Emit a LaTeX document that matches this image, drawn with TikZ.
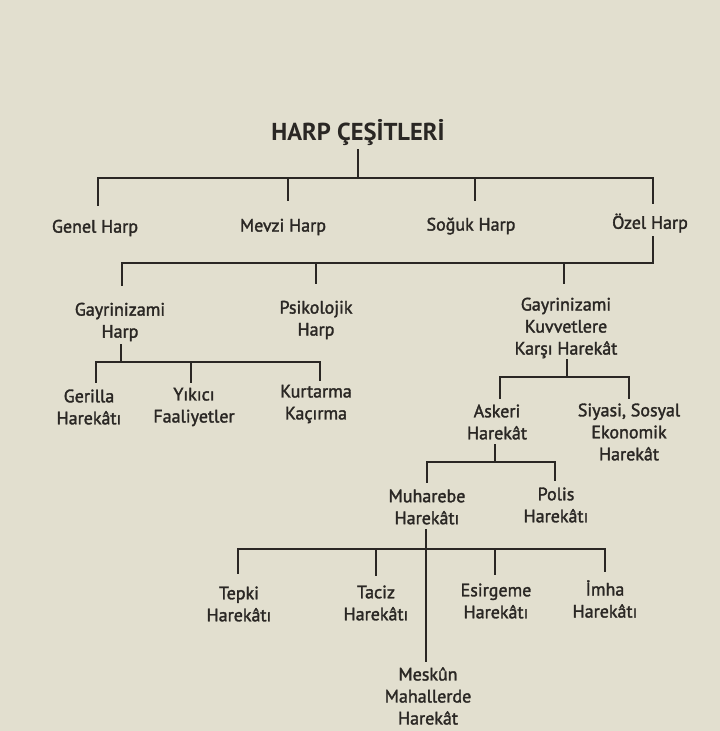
\documentclass[tikz,border=0pt]{standalone}
\usepackage{fontspec}
\setmainfont{PT Sans}
\newfontfamily\lblfont[FakeBold=1.8]{PT Sans}
\definecolor{bg}{RGB}{226,223,207}
\definecolor{ink}{RGB}{42,39,36}
\begin{document}
\begin{tikzpicture}[x=1pt,y=-1pt,
  lbl/.style={align=center,inner sep=0pt,text=ink,font=\lblfont\fontsize{18}{22}\selectfont},
  ttl/.style={inner sep=0pt,text=ink,font=\fontsize{24.5}{26}\selectfont\bfseries},
  conn/.style={draw=ink,line width=2pt,line cap=rect}]
\useasboundingbox[fill=bg] (0,0) rectangle (720,731);
% nodes
\node[ttl] (title) at (358,133) {HARP ÇEŞİTLERİ};
\node[lbl] (genel) at (95,228) {Genel Harp};
\node[lbl] (mevzi) at (283,227) {Mevzi Harp};
\node[lbl] (soguk) at (471,226) {Soğuk Harp};
\node[lbl] (ozel) at (650,223) {Özel Harp};
\node[lbl] (gh) at (120,322) {Gayrinizami\\Harp};
\node[lbl] (ps) at (316,320) {Psikolojik\\Harp};
\node[lbl] (gk) at (566,328) {Gayrinizami\\Kuvvetlere\\Karşı Harekât};
\node[lbl] (ger) at (89,407) {Gerilla\\Harekâtı};
\node[lbl] (yik) at (194,407) {Yıkıcı\\Faaliyetler};
\node[lbl] (kur) at (316,404) {Kurtarma\\Kaçırma};
\node[lbl] (ask) at (497,422) {Askeri\\Harekât};
\node[lbl] (siy) at (629,432) {Siyasi, Sosyal\\Ekonomik\\Harekât};
\node[lbl] (muh) at (427,507) {Muharebe\\Harekâtı};
\node[lbl] (pol) at (556,505) {Polis\\Harekâtı};
\node[lbl] (tep) at (239,604) {Tepki\\Harekâtı};
\node[lbl] (tac) at (376,603) {Taciz\\Harekâtı};
\node[lbl] (esi) at (496,601) {Esirgeme\\Harekâtı};
\node[lbl] (imh) at (605,599) {İmha\\Harekâtı};
\node[lbl] (mes) at (428,696) {Meskûn\\Mahallerde\\Harekât};
% connector end points
\coordinate (title-o) at (358,150);
\coordinate (bar0) at (0,178);
\coordinate (genel-i) at (98,205);
\coordinate (mevzi-i) at (288,200);
\coordinate (soguk-i) at (475,200);
\coordinate (ozel-i) at (653,203);
\coordinate (ozel-o) at (653,237);
\coordinate (bar1) at (0,263);
\coordinate (gh-i) at (122,285);
\coordinate (ps-i) at (316,283);
\coordinate (gk-i) at (564,283);
\coordinate (gh-o) at (121,345);
\coordinate (bar2) at (0,362);
\coordinate (ger-i) at (96,382);
\coordinate (yik-i) at (191,382);
\coordinate (kur-i) at (320,380);
\coordinate (gk-o) at (567,360);
\coordinate (bar3) at (0,377);
\coordinate (ask-i) at (500,398);
\coordinate (siy-i) at (629,398);
\coordinate (ask-o) at (495,445);
\coordinate (bar4) at (0,462);
\coordinate (muh-i) at (427,482);
\coordinate (pol-i) at (555,480);
\coordinate (muh-o) at (426,530);
\coordinate (bar5) at (0,549);
\coordinate (tep-i) at (238,573);
\coordinate (tac-i) at (376,575);
\coordinate (esi-i) at (495,574);
\coordinate (imh-i) at (605,571);
\coordinate (mes-i) at (426,661);
% connectors
\draw[conn] (title-o) -- (title-o |- bar0);
\draw[conn] (genel-i) -- (genel-i |- bar0) -- (ozel-i |- bar0) -- (ozel-i);
\draw[conn] (mevzi-i) -- (mevzi-i |- bar0);
\draw[conn] (soguk-i) -- (soguk-i |- bar0);
\draw[conn] (ozel-o) -- (ozel-o |- bar1);
\draw[conn] (gh-i) -- (gh-i |- bar1) -- (ozel-o |- bar1);
\draw[conn] (ps-i) -- (ps-i |- bar1);
\draw[conn] (gk-i) -- (gk-i |- bar1);
\draw[conn] (gh-o) -- (gh-o |- bar2);
\draw[conn] (ger-i) -- (ger-i |- bar2) -- (kur-i |- bar2) -- (kur-i);
\draw[conn] (yik-i) -- (yik-i |- bar2);
\draw[conn] (gk-o) -- (gk-o |- bar3);
\draw[conn] (ask-i) -- (ask-i |- bar3) -- (siy-i |- bar3) -- (siy-i);
\draw[conn] (ask-o) -- (ask-o |- bar4);
\draw[conn] (muh-i) -- (muh-i |- bar4) -- (pol-i |- bar4) -- (pol-i);
\draw[conn] (muh-o) -- (mes-i);
\draw[conn] (tep-i) -- (tep-i |- bar5) -- (imh-i |- bar5) -- (imh-i);
\draw[conn] (tac-i) -- (tac-i |- bar5);
\draw[conn] (esi-i) -- (esi-i |- bar5);
\end{tikzpicture}
\end{document}
